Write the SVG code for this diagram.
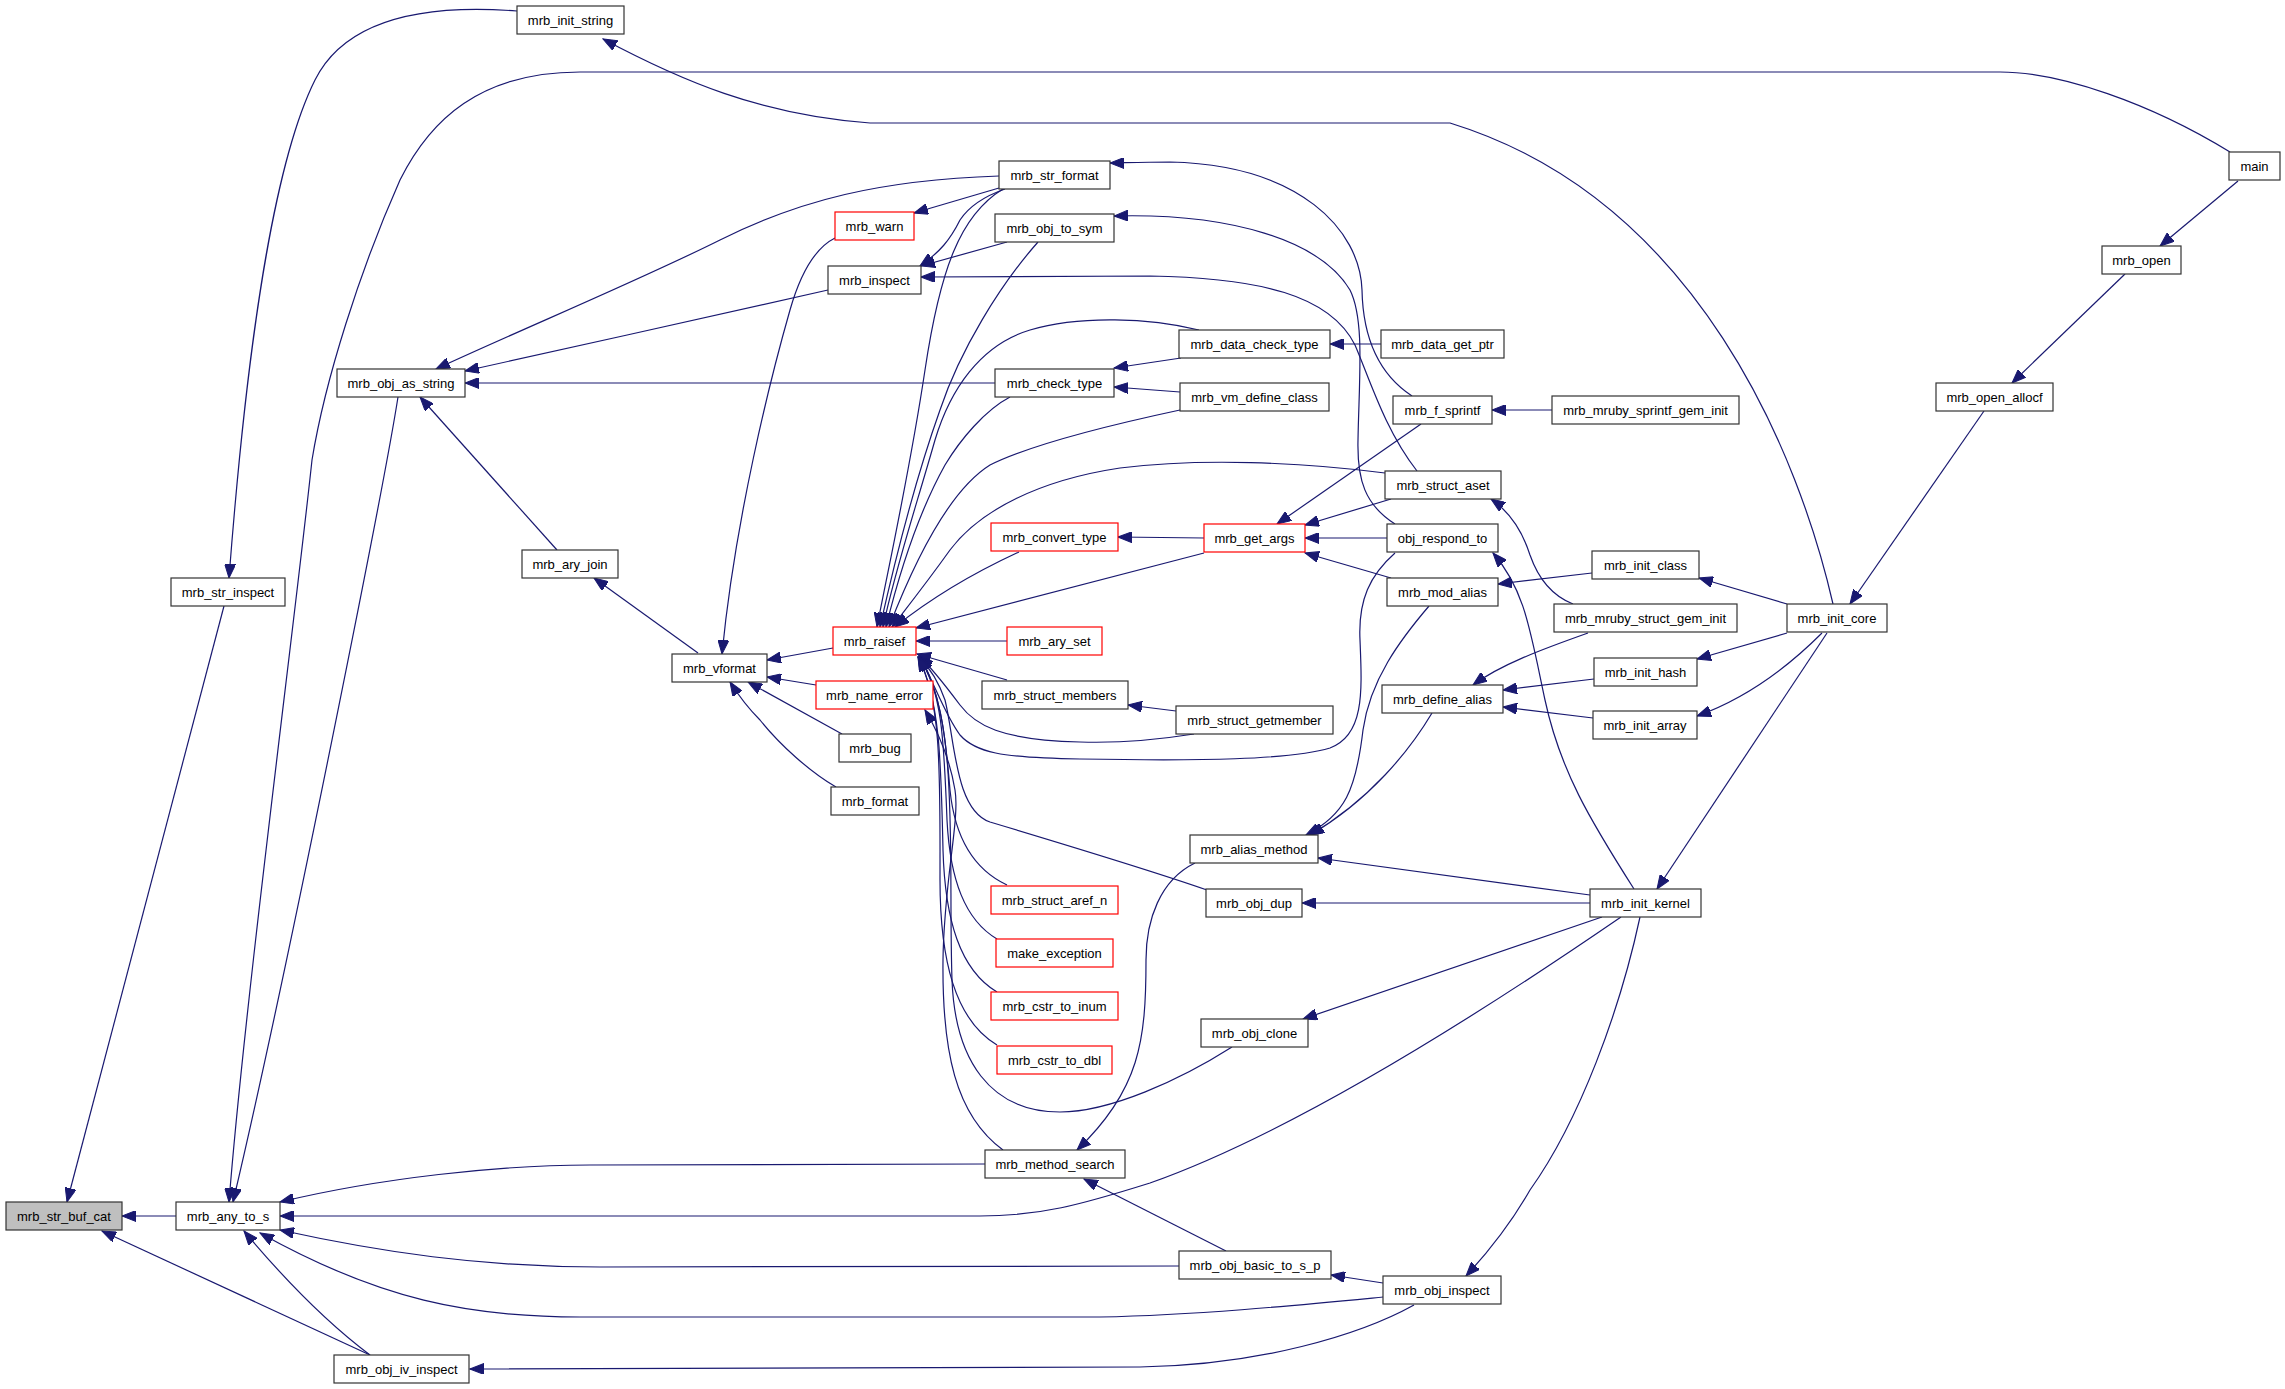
<svg xmlns="http://www.w3.org/2000/svg" width="2285" height="1389" viewBox="0 0 2285 1389">
<style>
.n rect{fill:#fff;stroke:#333;stroke-width:1.2}
.n.r rect{stroke:#f00}
.n.g rect{fill:#bfbfbf}
.n text{font-family:"Liberation Sans",Arial,sans-serif;font-size:13px;fill:#000;text-anchor:middle}
#edges path{fill:none;stroke:#191970;stroke-width:1.2;marker-end:url(#a)}
</style>
<defs>
<marker id="a" markerUnits="userSpaceOnUse" markerWidth="15" markerHeight="11" refX="14" refY="5.5" orient="auto">
<path d="M0,0 L14,5.5 L0,11 z" fill="#191970" stroke="#191970" stroke-width="1"/>
</marker>
</defs>
<rect width="2285" height="1389" fill="#fff"/>
<g id="edges">
<path d="M224,606 L67,1202"/>
<path d="M176,1216 L122,1216"/>
<path d="M370,1355 L102,1231"/>
<path d="M517,11 C400,2 340,30 315,80 C270,170 245,370 229,578"/>
<path d="M2230,152 C2150,103 2060,72 2000,72 L580,72 C480,72 430,120 400,180 C360,270 325,380 312,460 C295,620 245,1000 229,1202"/>
<path d="M398,397 C385,480 290,960 233,1202"/>
<path d="M985,1164 L590,1165 C500,1165 380,1178 280,1202"/>
<path d="M1621,917 C1500,1000 1300,1130 1150,1183 C1080,1205 1040,1216 980,1216 L280,1216"/>
<path d="M1179,1266 L600,1267 C480,1267 380,1252 280,1230"/>
<path d="M1383,1297 C1300,1305 1200,1315 1100,1317 L580,1317 C470,1317 380,1300 260,1233"/>
<path d="M370,1355 C330,1325 285,1280 244,1231"/>
<path d="M1414,1305 C1360,1335 1260,1365 1140,1367 L470,1369"/>
<path d="M1383,1283 L1331,1275"/>
<path d="M1226,1251 L1084,1179"/>
<path d="M1195,863 C1160,880 1146,920 1146,960 C1146,1040 1140,1090 1077,1150"/>
<path d="M1003,1150 C955,1115 942,1050 943,960 C944,880 960,820 955,790 C950,760 940,735 925,710"/>
<path d="M1232,1047 C1180,1080 1110,1112 1060,1112 C990,1112 955,1060 952,980 C948,860 960,720 920,657"/>
<path d="M1007,680 L917,654"/>
<path d="M1194,734 C1150,741 1110,743 1080,742 C1000,740 975,725 960,705 C945,685 932,668 919,656"/>
<path d="M1395,553 C1370,575 1358,600 1360,640 C1362,690 1365,735 1330,748 C1290,760 1200,761 1080,759 C1000,758 975,752 960,735 C945,715 935,685 920,657"/>
<path d="M1207,890 C1150,870 1050,840 990,822 C955,810 955,740 945,700 C938,680 930,668 919,657"/>
<path d="M1007,885 C975,870 955,840 950,790 C945,730 940,690 919,657"/>
<path d="M997,939 C965,920 950,880 947,820 C944,740 942,690 919,657"/>
<path d="M997,992 C960,970 945,920 943,850 C941,760 940,700 918,657"/>
<path d="M997,1045 C955,1020 940,960 940,880 C940,780 942,700 918,657"/>
<path d="M1007,641 L916,641"/>
<path d="M1204,553 L916,628"/>
<path d="M1204,538 L1118,537"/>
<path d="M1019,552 C980,570 935,595 895,627"/>
<path d="M999,188 L914,213"/>
<path d="M1005,189 C985,196 970,205 960,220 C950,240 940,252 920,266"/>
<path d="M1003,189 C960,215 940,270 925,370 C910,470 890,560 877,627"/>
<path d="M1038,242 C1000,285 960,350 940,410 C915,480 895,560 880,627"/>
<path d="M1199,330 C1150,318 1080,315 1030,330 C980,345 950,390 935,440 C915,510 895,570 883,627"/>
<path d="M1010,397 C985,410 960,440 945,465 C920,510 900,570 886,627"/>
<path d="M1180,410 C1110,425 1030,445 990,465 C950,490 915,560 889,627"/>
<path d="M1385,473 C1300,462 1200,458 1120,468 C1040,480 980,510 950,550 C925,585 905,610 892,627"/>
<path d="M835,238 C815,248 800,275 790,310 C770,380 735,520 722,654"/>
<path d="M833,648 L767,660"/>
<path d="M816,685 L767,677"/>
<path d="M842,734 L748,682"/>
<path d="M836,787 C810,772 780,745 760,720 C745,705 737,693 730,682"/>
<path d="M698,653 L594,578"/>
<path d="M557,550 L420,397"/>
<path d="M995,383 L465,383"/>
<path d="M828,290 C720,315 580,345 465,371"/>
<path d="M999,176 C880,180 800,200 720,240 C640,280 520,330 436,369"/>
<path d="M1007,242 L921,266"/>
<path d="M1417,471 C1385,430 1370,380 1355,345 C1330,295 1260,278 1150,276 L921,277"/>
<path d="M1395,524 C1365,505 1357,480 1358,440 C1359,380 1365,320 1350,290 C1320,240 1230,213 1114,216"/>
<path d="M1412,396 C1380,375 1363,340 1362,290 C1360,230 1300,165 1170,162 C1140,162 1120,163 1110,163"/>
<path d="M1381,344 L1330,344"/>
<path d="M1181,358 L1114,368"/>
<path d="M1180,392 L1114,387"/>
<path d="M1552,410 L1492,410"/>
<path d="M1421,424 L1277,524"/>
<path d="M1391,499 L1305,525"/>
<path d="M1387,538 L1305,538"/>
<path d="M1391,578 L1305,553"/>
<path d="M1176,711 L1128,705"/>
<path d="M1573,604 C1550,595 1537,575 1530,555 C1522,530 1510,512 1491,499"/>
<path d="M1592,573 L1498,584"/>
<path d="M1588,633 C1540,650 1500,665 1473,685"/>
<path d="M1594,679 L1503,690"/>
<path d="M1593,718 L1503,707"/>
<path d="M1429,606 C1400,640 1370,680 1363,730 C1356,790 1345,815 1306,835"/>
<path d="M1432,713 C1410,750 1370,800 1310,835"/>
<path d="M1590,895 L1318,858"/>
<path d="M1590,903 L1302,903"/>
<path d="M1634,889 C1590,820 1560,770 1545,700 C1530,630 1525,590 1493,553"/>
<path d="M1602,917 L1303,1019"/>
<path d="M1640,917 C1620,1010 1580,1120 1530,1190 C1510,1225 1490,1250 1466,1276"/>
<path d="M1827,633 L1657,889"/>
<path d="M1787,604 L1699,578"/>
<path d="M1787,633 L1697,659"/>
<path d="M1822,633 C1790,665 1750,697 1697,716"/>
<path d="M1833,604 C1800,460 1700,200 1450,123 L870,123 C760,115 680,80 603,39"/>
<path d="M1984,411 L1850,604"/>
<path d="M2125,274 L2012,383"/>
<path d="M2238,181 L2160,246"/>
</g>
<g id="n_buf_cat" class="n g"><rect x="6" y="1202" width="116" height="28"/><text x="64" y="1220.5">mrb_str_buf_cat</text></g>
<g id="n_any_to_s" class="n"><rect x="176" y="1202" width="104" height="28"/><text x="228" y="1220.5">mrb_any_to_s</text></g>
<g id="n_obj_iv_inspect" class="n"><rect x="334" y="1355" width="135" height="28"/><text x="401.5" y="1373.5">mrb_obj_iv_inspect</text></g>
<g id="n_str_inspect" class="n"><rect x="171" y="578" width="114" height="28"/><text x="228" y="596.5">mrb_str_inspect</text></g>
<g id="n_init_string" class="n"><rect x="517" y="6" width="107" height="28"/><text x="570.5" y="24.5">mrb_init_string</text></g>
<g id="n_obj_as_string" class="n"><rect x="337" y="369" width="128" height="28"/><text x="401" y="387.5">mrb_obj_as_string</text></g>
<g id="n_ary_join" class="n"><rect x="522" y="550" width="96" height="28"/><text x="570" y="568.5">mrb_ary_join</text></g>
<g id="n_vformat" class="n"><rect x="672" y="654" width="95" height="28"/><text x="719.5" y="672.5">mrb_vformat</text></g>
<g id="n_warn" class="n r"><rect x="835" y="212" width="79" height="28"/><text x="874.5" y="230.5">mrb_warn</text></g>
<g id="n_inspect" class="n"><rect x="828" y="266" width="93" height="28"/><text x="874.5" y="284.5">mrb_inspect</text></g>
<g id="n_str_format" class="n"><rect x="999" y="161" width="111" height="28"/><text x="1054.5" y="179.5">mrb_str_format</text></g>
<g id="n_obj_to_sym" class="n"><rect x="995" y="214" width="119" height="28"/><text x="1054.5" y="232.5">mrb_obj_to_sym</text></g>
<g id="n_check_type" class="n"><rect x="995" y="369" width="119" height="28"/><text x="1054.5" y="387.5">mrb_check_type</text></g>
<g id="n_raisef" class="n r"><rect x="833" y="627" width="83" height="28"/><text x="874.5" y="645.5">mrb_raisef</text></g>
<g id="n_convert_type" class="n r"><rect x="991" y="523" width="127" height="28"/><text x="1054.5" y="541.5">mrb_convert_type</text></g>
<g id="n_ary_set" class="n r"><rect x="1007" y="627" width="95" height="28"/><text x="1054.5" y="645.5">mrb_ary_set</text></g>
<g id="n_name_error" class="n r"><rect x="816" y="681" width="117" height="28"/><text x="874.5" y="699.5">mrb_name_error</text></g>
<g id="n_struct_members" class="n"><rect x="982" y="681" width="146" height="28"/><text x="1055" y="699.5">mrb_struct_members</text></g>
<g id="n_bug" class="n"><rect x="839" y="734" width="72" height="28"/><text x="875" y="752.5">mrb_bug</text></g>
<g id="n_format" class="n"><rect x="831" y="787" width="88" height="28"/><text x="875" y="805.5">mrb_format</text></g>
<g id="n_struct_aref_n" class="n r"><rect x="991" y="886" width="127" height="28"/><text x="1054.5" y="904.5">mrb_struct_aref_n</text></g>
<g id="n_make_exception" class="n r"><rect x="996" y="939" width="117" height="28"/><text x="1054.5" y="957.5">make_exception</text></g>
<g id="n_cstr_to_inum" class="n r"><rect x="991" y="992" width="127" height="28"/><text x="1054.5" y="1010.5">mrb_cstr_to_inum</text></g>
<g id="n_cstr_to_dbl" class="n r"><rect x="997" y="1046" width="115" height="28"/><text x="1054.5" y="1064.5">mrb_cstr_to_dbl</text></g>
<g id="n_method_search" class="n"><rect x="985" y="1150" width="140" height="28"/><text x="1055" y="1168.5">mrb_method_search</text></g>
<g id="n_data_check_type" class="n"><rect x="1179" y="330" width="151" height="28"/><text x="1254.5" y="348.5">mrb_data_check_type</text></g>
<g id="n_data_get_ptr" class="n"><rect x="1381" y="330" width="123" height="28"/><text x="1442.5" y="348.5">mrb_data_get_ptr</text></g>
<g id="n_vm_define_class" class="n"><rect x="1180" y="383" width="149" height="28"/><text x="1254.5" y="401.5">mrb_vm_define_class</text></g>
<g id="n_f_sprintf" class="n"><rect x="1393" y="396" width="99" height="28"/><text x="1442.5" y="414.5">mrb_f_sprintf</text></g>
<g id="n_sprintf_gem_init" class="n"><rect x="1552" y="396" width="187" height="28"/><text x="1645.5" y="414.5">mrb_mruby_sprintf_gem_init</text></g>
<g id="n_struct_aset" class="n"><rect x="1385" y="471" width="116" height="28"/><text x="1443" y="489.5">mrb_struct_aset</text></g>
<g id="n_get_args" class="n r"><rect x="1204" y="524" width="101" height="28"/><text x="1254.5" y="542.5">mrb_get_args</text></g>
<g id="n_obj_respond_to" class="n"><rect x="1387" y="524" width="111" height="28"/><text x="1442.5" y="542.5">obj_respond_to</text></g>
<g id="n_mod_alias" class="n"><rect x="1387" y="578" width="111" height="28"/><text x="1442.5" y="596.5">mrb_mod_alias</text></g>
<g id="n_init_class" class="n"><rect x="1592" y="551" width="107" height="28"/><text x="1645.5" y="569.5">mrb_init_class</text></g>
<g id="n_struct_gem_init" class="n"><rect x="1554" y="604" width="183" height="28"/><text x="1645.5" y="622.5">mrb_mruby_struct_gem_init</text></g>
<g id="n_init_hash" class="n"><rect x="1594" y="658" width="103" height="28"/><text x="1645.5" y="676.5">mrb_init_hash</text></g>
<g id="n_define_alias" class="n"><rect x="1382" y="685" width="121" height="28"/><text x="1442.5" y="703.5">mrb_define_alias</text></g>
<g id="n_init_array" class="n"><rect x="1593" y="711" width="104" height="28"/><text x="1645" y="729.5">mrb_init_array</text></g>
<g id="n_struct_getmember" class="n"><rect x="1176" y="706" width="157" height="28"/><text x="1254.5" y="724.5">mrb_struct_getmember</text></g>
<g id="n_alias_method" class="n"><rect x="1190" y="835" width="128" height="28"/><text x="1254" y="853.5">mrb_alias_method</text></g>
<g id="n_obj_dup" class="n"><rect x="1206" y="889" width="96" height="28"/><text x="1254" y="907.5">mrb_obj_dup</text></g>
<g id="n_init_kernel" class="n"><rect x="1590" y="889" width="111" height="28"/><text x="1645.5" y="907.5">mrb_init_kernel</text></g>
<g id="n_init_core" class="n"><rect x="1787" y="604" width="100" height="28"/><text x="1837" y="622.5">mrb_init_core</text></g>
<g id="n_open_allocf" class="n"><rect x="1936" y="383" width="117" height="28"/><text x="1994.5" y="401.5">mrb_open_allocf</text></g>
<g id="n_open" class="n"><rect x="2102" y="246" width="79" height="28"/><text x="2141.5" y="264.5">mrb_open</text></g>
<g id="n_main" class="n"><rect x="2229" y="152" width="51" height="28"/><text x="2254.5" y="170.5">main</text></g>
<g id="n_obj_clone" class="n"><rect x="1201" y="1019" width="107" height="28"/><text x="1254.5" y="1037.5">mrb_obj_clone</text></g>
<g id="n_obj_basic_to_s_p" class="n"><rect x="1179" y="1251" width="152" height="28"/><text x="1255" y="1269.5">mrb_obj_basic_to_s_p</text></g>
<g id="n_obj_inspect" class="n"><rect x="1383" y="1276" width="118" height="28"/><text x="1442" y="1294.5">mrb_obj_inspect</text></g>
</svg>
